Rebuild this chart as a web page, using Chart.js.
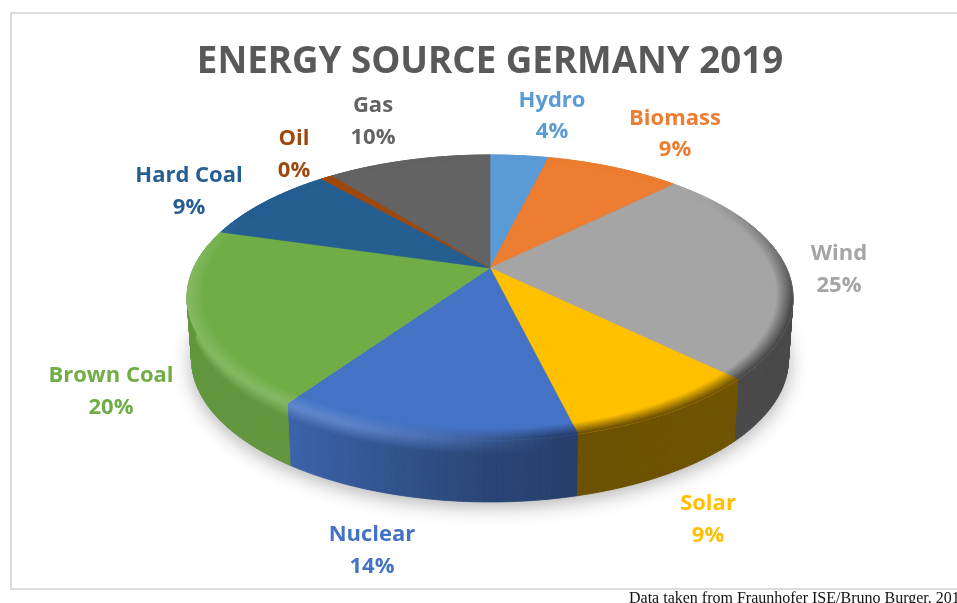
<!DOCTYPE html>
<html>
<head>
<meta charset="utf-8">
<title>Energy source Germany 2019</title>
<script src="https://cdn.jsdelivr.net/npm/chart.js@4"></script>
<style>
    html, body { margin: 0; padding: 0; background: #fff; overflow: hidden; width: 957px; height: 603px; }
    #frame { position: absolute; left: 10px; top: 12px; width: 980px; height: 574px; border: 2px solid #dcdcdc; box-sizing: content-box; }
    #viewsChart { position: absolute; left: 0; top: 0; }
    #source { position: absolute; left: 629px; top: 589px; font: 16px "Liberation Serif", serif; color: #111; white-space: nowrap; }
</style>
</head>
<body>
<div id="frame"></div>
<canvas id="viewsChart" width="957" height="603"></canvas>
<div id="source">Data taken from Fraunhofer ISE/Bruno Burger. 2019</div>
<script>
const categories = ["Hydro", "Biomass", "Wind", "Solar", "Nuclear", "Brown Coal", "Hard Coal", "Oil", "Gas"];
const shares = [3.8, 8.8, 24.7, 8.9, 13.4, 19.9, 9.1, 0.8, 10.6]; // read from the slice edges
const percentLabels = ["4%", "9%", "25%", "9%", "14%", "20%", "9%", "0%", "10%"]; // as printed
const colors = ["#5b9bd5", "#ed7d31", "#a5a5a5", "#ffc000", "#4472c4", "#70ad47", "#255e91", "#9e480e", "#636363"];
const chartTitle = "ENERGY SOURCE GERMANY 2019";

// label anchors in page pixels (centre x, first line y, second line y)
const labelAnchors = [[552, 101, 132], [675, 119, 150], [839, 254, 286], [708, 504, 536], [372, 535, 567],
    [111, 376, 408], [189, 176, 208], [294, 139, 171], [373, 106, 138]];

// tilted disc: perspective from the flat pie onto the page
const view = { cx: 490, cy: 268, a: 296.4, b: 136.4, k: 0.207, depth: 62 };

function project(theta, r, h) {
    const u = Math.sin(theta) * r;
    const v = -Math.cos(theta) * r;
    const w = 1 - view.k * v;
    const shrink = 1 - 0.015 * h / view.depth;
    return [view.cx + view.a * u / w * shrink, view.cy + view.b * v / w + h];
}

function hexToRgb(hex) {
    return [1, 3, 5].map(i => parseInt(hex.substr(i, 2), 16));
}

function mix(c1, c2, t) {
    return c1.map((c, i) => c + (c2[i] - c) * t);
}

function css(c) {
    return "rgb(" + c.map(Math.round).join(",") + ")";
}

function clamp01(t) {
    return Math.max(0, Math.min(1, t));
}

// how dark the wall is around the disc, theta in degrees
function wallDarkness(deg) {
    const table = [[0, .45], [133, .44], [166.2, .42], [166.6, .55], [180, .6], [213, .87], [270, .88], [360, .88]];
    for (let i = 1; i < table.length; i++) {
        if (deg <= table[i][0]) {
            const t = (deg - table[i - 1][0]) / (table[i][0] - table[i - 1][0]);
            return table[i - 1][1] + (table[i][1] - table[i - 1][1]) * t;
        }
    }
    return .88;
}

function rimColor(base, deg) {
    const wall = base.map(c => c * wallDarkness(deg));
    let fade = 0, light = 0;
    if (deg > 55 && deg < 205) fade = Math.min(clamp01((deg - 55) / 50), clamp01((205 - deg) / 35));
    if (deg > 170 && deg < 295) light = Math.min(clamp01((deg - 170) / 35), clamp01((295 - deg) / 25)) * .15;
    return mix(mix(base, wall, fade), [255, 255, 255], light);
}

function fillQuad(ctx, pts, color) {
    ctx.beginPath();
    pts.forEach((p, i) => i ? ctx.lineTo(p[0], p[1]) : ctx.moveTo(p[0], p[1]));
    ctx.closePath();
    ctx.fillStyle = color;
    ctx.strokeStyle = color;
    ctx.lineWidth = 0.7;
    ctx.fill();
    ctx.stroke();
}

function angleSteps(start, end) {
    const n = Math.max(1, Math.ceil((end - start) / (Math.PI / 180)));
    const list = [];
    for (let i = 0; i <= n; i++) list.push(start + (end - start) * i / n);
    return list;
}

const tiltedPie = {
    id: "tiltedPie",
    // replaces the flat arcs by the same arcs drawn on a tilted disc
    beforeDatasetsDraw(chart) {
        const ctx = chart.ctx;
        const arcs = chart.getDatasetMeta(0).data;
        const offset = Math.PI / 2; // arcs start at -90deg, theta is clockwise from top

        ctx.save();

        // soft shadow under the disc
        ctx.save();
        ctx.shadowColor = "rgba(0,0,0,0.32)";
        ctx.shadowBlur = 20;
        ctx.shadowOffsetY = 4;
        ctx.beginPath();
        for (let d = 0; d <= 360; d += 2) {
            const p = project(d * Math.PI / 180, 1, view.depth);
            d ? ctx.lineTo(p[0], p[1]) : ctx.moveTo(p[0], p[1]);
        }
        ctx.closePath();
        ctx.fillStyle = "#888";
        ctx.fill();
        ctx.restore();

        // side wall
        arcs.forEach((arc, i) => {
            const base = hexToRgb(colors[i]);
            const steps = angleSteps(arc.startAngle + offset, arc.endAngle + offset);
            for (let s = 1; s < steps.length; s++) {
                const deg = (steps[s - 1] + steps[s]) / 2 * 180 / Math.PI;
                const wall = base.map(c => c * wallDarkness(deg));
                const rim = rimColor(base, deg);
                for (let h = 0; h < view.depth; h += 2) {
                    const t = clamp01(h / 14);
                    fillQuad(ctx, [project(steps[s - 1], 1, h), project(steps[s], 1, h),
                        project(steps[s], 1, h + 2), project(steps[s - 1], 1, h + 2)], css(mix(rim, wall, t)));
                }
            }
        });

        // top face
        arcs.forEach((arc, i) => {
            const steps = angleSteps(arc.startAngle + offset, arc.endAngle + offset);
            const pts = [[view.cx, view.cy]].concat(steps.map(a => project(a, 1, 0)));
            fillQuad(ctx, pts, colors[i]);
        });

        // bevel round the edge of the top face
        const bands = 10, inner = 0.95;
        arcs.forEach((arc, i) => {
            const base = hexToRgb(colors[i]);
            const steps = angleSteps(arc.startAngle + offset, arc.endAngle + offset);
            for (let s = 1; s < steps.length; s++) {
                const rim = rimColor(base, (steps[s - 1] + steps[s]) / 2 * 180 / Math.PI);
                for (let b = 0; b < bands; b++) {
                    const r0 = inner + (1 - inner) * b / bands;
                    const r1 = inner + (1 - inner) * (b + 1) / bands;
                    fillQuad(ctx, [project(steps[s - 1], r0, 0), project(steps[s], r0, 0),
                        project(steps[s], r1, 0), project(steps[s - 1], r1, 0)], css(mix(base, rim, (b + 1) / bands)));
                }
            }
        });

        ctx.restore();
        return false;
    },
    afterDraw(chart) {
        const ctx = chart.ctx;
        ctx.save();
        ctx.font = "700 22px 'Open Sans'";
        ctx.textAlign = "center";
        ctx.textBaseline = "middle";
        categories.forEach((name, i) => {
            const pos = labelAnchors[i];
            ctx.fillStyle = colors[i];
            ctx.fillText(name, pos[0], pos[1]);
            ctx.fillText(percentLabels[i], pos[0], pos[2]);
        });
        ctx.restore();
    }
};

new Chart(document.getElementById("viewsChart").getContext("2d"), {
    type: "pie",
    data: {
        labels: categories,
        datasets: [{ data: shares, backgroundColor: colors, borderWidth: 0 }]
    },
    options: {
        responsive: false,
        animation: false,
        layout: { padding: { left: 187, right: 164, top: 41, bottom: 100 } },
        plugins: {
            legend: { display: false },
            tooltip: { enabled: false },
            title: {
                display: true,
                text: chartTitle,
                color: "#595959",
                font: { family: "'Open Sans'", size: 36.7, weight: "700" },
                padding: { top: 0, bottom: 10 }
            }
        }
    },
    plugins: [tiltedPie]
});
</script>
</body>
</html>
